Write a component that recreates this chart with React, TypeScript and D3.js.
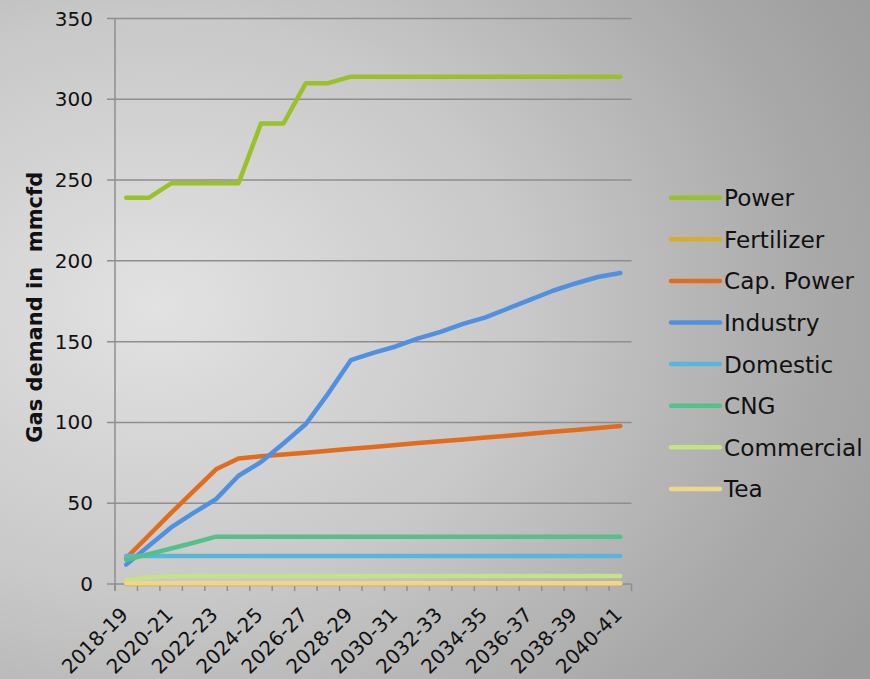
import React from "react";
import * as d3 from "d3";

// Gas demand projections by sector, 2018-19 to 2040-41 (mmcfd)
const categories: string[] = [
  "2018-19", "2019-20", "2020-21", "2021-22", "2022-23", "2023-24", "2024-25", "2025-26",
  "2026-27", "2027-28", "2028-29", "2029-30", "2030-31", "2031-32", "2032-33", "2033-34",
  "2034-35", "2035-36", "2036-37", "2037-38", "2038-39", "2039-40", "2040-41",
];

const power = [239, 239, 248, 248, 248, 248, 285, 285, 310, 310, 314, 314, 314, 314, 314, 314, 314, 314, 314, 314, 314, 314, 314];
const fertilizer = [0, 0, 0, 0, 0, 0, 0, 0, 0, 0, 0, 0, 0, 0, 0, 0, 0, 0, 0, 0, 0, 0, 0];
const capPower = [16, 30, 44, 57.5, 71, 77.7, 79, 80.2, 81.3, 82.5, 83.7, 84.8, 86, 87.2, 88.3, 89.5, 90.7, 91.8, 93, 94.2, 95.3, 96.5, 97.8];
const industry = [12, 23.5, 35, 44, 52.5, 67, 75.5, 87, 99, 118, 138.5, 143, 147, 152, 156, 161, 165, 170.5, 176, 181.5, 186, 190, 192.5];
const domestic = [17.3, 17.3, 17.3, 17.3, 17.3, 17.3, 17.3, 17.3, 17.3, 17.3, 17.3, 17.3, 17.3, 17.3, 17.3, 17.3, 17.3, 17.3, 17.3, 17.3, 17.3, 17.3, 17.3];
const cng = [15, 18.5, 22, 25.5, 29.3, 29.3, 29.3, 29.3, 29.3, 29.3, 29.3, 29.3, 29.3, 29.3, 29.3, 29.3, 29.3, 29.3, 29.3, 29.3, 29.3, 29.3, 29.3];
const commercial = [2.5, 4, 5, 5, 5, 5, 5, 5, 5, 5, 5, 5, 5, 5, 5, 5, 5, 5, 5, 5, 5, 5, 5];
const tea = [0.5, 0.5, 0.5, 0.5, 0.5, 0.5, 0.5, 0.5, 0.5, 0.5, 0.5, 0.5, 0.5, 0.5, 0.5, 0.5, 0.5, 0.5, 0.5, 0.5, 0.5, 0.5, 0.5];

const seriesNames = ["Power", "Fertilizer", "Cap. Power", "Industry", "Domestic", "CNG", "Commercial", "Tea"];
const seriesValues = [power, fertilizer, capPower, industry, domestic, cng, commercial, tea];
const seriesColors = ["#99c12a", "#d6ad2c", "#e06c1e", "#4f90e0", "#5ab6d8", "#55c08a", "#c4e287", "#f0d58c"];

const yTicks = [0, 50, 100, 150, 200, 250, 300, 350];
const yTitle = "Gas demand in  mmcfd";

const W = 870;
const H = 679;
const plot = { left: 115, right: 631.5, top: 18.5, bottom: 584 };
const FONT = "'DejaVu Sans', Verdana, sans-serif";

export default function App() {
  const x = d3.scaleBand<string>().domain(categories).range([plot.left, plot.right]).padding(0);
  const y = d3.scaleLinear().domain([0, 350]).range([plot.bottom, plot.top]);
  const cx = (c: string) => (x(c) ?? 0) + x.bandwidth() / 2;

  const line = d3
    .line<number>()
    .x((_, i) => cx(categories[i]))
    .y((v) => y(v));

  const gridColor = "#8e8e8e";
  const legendX = 671;
  const legendY0 = 197.7;
  const legendStep = 41.6;

  return (
    <svg
      width={W}
      height={H}
      viewBox={`0 0 ${W} ${H}`}
      style={{ position: "absolute", left: 0, top: 0, display: "block" }}
      fontFamily={FONT}
    >
      <defs>
        <radialGradient id="bg" cx="0.18" cy="0.45" r="0.95" fx="0.18" fy="0.45">
          <stop offset="0" stopColor="#e2e2e2" />
          <stop offset="0.45" stopColor="#c8c8c8" />
          <stop offset="0.8" stopColor="#a9a9a9" />
          <stop offset="1" stopColor="#9c9c9c" />
        </radialGradient>
      </defs>
      <rect x={0} y={0} width={W} height={H} fill="url(#bg)" />

      {/* horizontal gridlines with left tick stubs */}
      {yTicks.map((t) => (
        <g key={`g${t}`}>
          <line x1={plot.left - 8} x2={plot.right} y1={y(t)} y2={y(t)} stroke={gridColor} strokeWidth={1.5} />
          <text
            x={93}
            y={y(t)}
            textAnchor="end"
            dominantBaseline="central"
            fontSize={20}
            fill="#111"
          >
            {t}
          </text>
        </g>
      ))}

      {/* value axis */}
      <line x1={plot.left} x2={plot.left} y1={plot.top} y2={plot.bottom + 7} stroke={gridColor} strokeWidth={1.5} />

      {/* category tick marks at band boundaries */}
      {categories.map((c) => (
        <line
          key={`t${c}`}
          x1={x(c) ?? 0}
          x2={x(c) ?? 0}
          y1={plot.bottom}
          y2={plot.bottom + 7}
          stroke={gridColor}
          strokeWidth={1.5}
        />
      ))}
      <line x1={plot.right} x2={plot.right} y1={plot.bottom} y2={plot.bottom + 7} stroke={gridColor} strokeWidth={1.5} />

      {/* category labels, every other year */}
      {categories.map((c, i) =>
        i % 2 === 0 ? (
          <text
            key={`l${c}`}
            transform={`translate(${cx(c) + 3},${plot.bottom + 32}) rotate(-45)`}
            textAnchor="end"
            fontSize={20}
            fill="#111"
          >
            {c}
          </text>
        ) : null
      )}

      {/* axis title */}
      <text
        transform={`translate(42,${(plot.top + plot.bottom) / 2 + 6}) rotate(-90)`}
        textAnchor="middle"
        fontSize={21}
        fontWeight="bold"
        fill="#111"
        style={{ whiteSpace: "pre" }}
      >
        {yTitle}
      </text>

      {/* series lines */}
      {seriesValues.map((vals, k) => (
        <path
          key={seriesNames[k]}
          d={line(vals) ?? ""}
          fill="none"
          stroke={seriesColors[k]}
          strokeWidth={4.5}
          strokeLinejoin="round"
          strokeLinecap="round"
        />
      ))}

      {/* legend */}
      {seriesNames.map((name, k) => {
        const ly = legendY0 + k * legendStep;
        return (
          <g key={`lg${name}`}>
            <line
              x1={legendX}
              x2={legendX + 49}
              y1={ly}
              y2={ly}
              stroke={seriesColors[k]}
              strokeWidth={4.5}
              strokeLinecap="round"
            />
            <text x={legendX + 53} y={ly + 8.4} fontSize={23.2} fill="#111">
              {name}
            </text>
          </g>
        );
      })}
    </svg>
  );
}
